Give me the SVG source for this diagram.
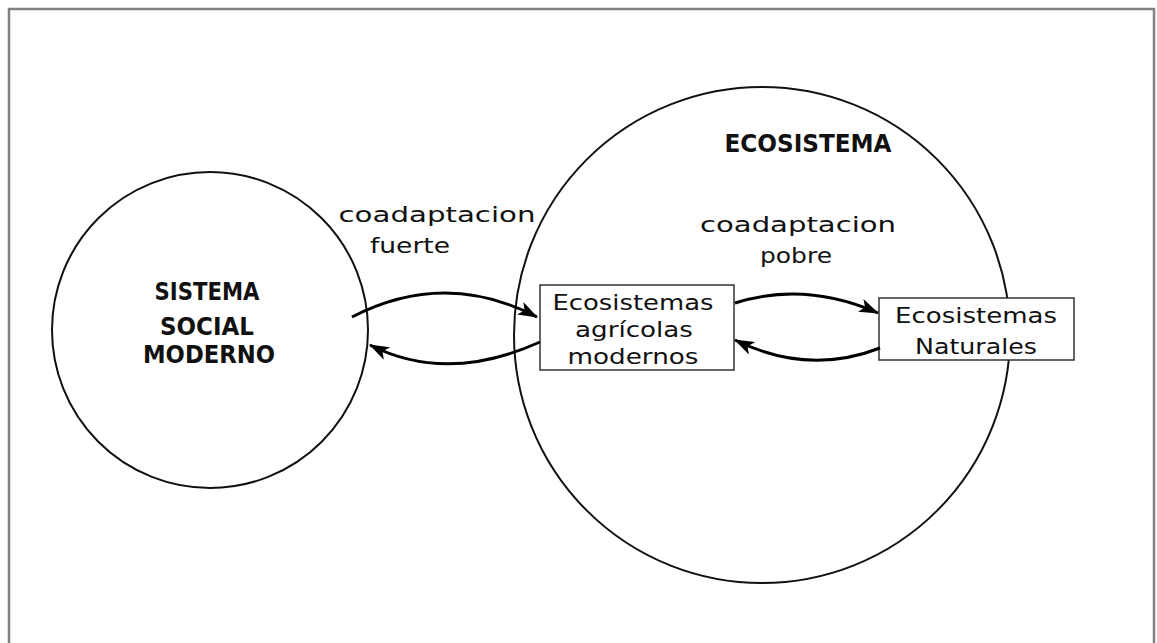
<svg xmlns="http://www.w3.org/2000/svg" width="1157" height="643" viewBox="0 0 1157 643">
<defs>
<style>
.frame{fill:none;stroke:#808080;stroke-width:2.5}
.circ{fill:none;stroke:#111;stroke-width:2}
.box{fill:#fff;stroke:#333;stroke-width:1.5}
.conn{fill:none;stroke:#000;stroke-width:3}
.t{font-family:"DejaVu Sans","Liberation Sans",sans-serif;font-size:22px;fill:#111;text-anchor:middle}
.b{font-family:"DejaVu Sans","Liberation Sans",sans-serif;font-size:24px;font-weight:bold;fill:#111;text-anchor:middle}
</style>
<marker id="ah" viewBox="0 0 20 14" refX="19" refY="7" markerWidth="20" markerHeight="14" markerUnits="userSpaceOnUse" orient="auto">
<path d="M0,0 L20,7 L0,14 L5,7 Z" fill="#000"/>
</marker>
</defs>
<rect x="0" y="0" width="1157" height="643" fill="#fff"/>
<rect class="frame" x="9" y="9" width="1145" height="650"/>
<g id="social">
<circle class="circ" cx="210" cy="330" r="158"/>
<text class="b" x="207" y="300" textLength="105" lengthAdjust="spacingAndGlyphs">SISTEMA</text>
<text class="b" x="207" y="335" textLength="94" lengthAdjust="spacingAndGlyphs">SOCIAL</text>
<text class="b" x="209" y="363" textLength="132" lengthAdjust="spacingAndGlyphs">MODERNO</text>
</g>
<g id="ecosistema">
<circle class="circ" cx="762" cy="335" r="248"/>
<text class="b" x="808" y="152" textLength="167" lengthAdjust="spacingAndGlyphs">ECOSISTEMA</text>
</g>
<g id="agricolas">
<rect class="box" x="540" y="285" width="194" height="85"/>
<text class="t" x="633" y="310" textLength="161" lengthAdjust="spacingAndGlyphs">Ecosistemas</text>
<text class="t" x="634" y="337" textLength="118" lengthAdjust="spacingAndGlyphs">agrícolas</text>
<text class="t" x="633" y="364" textLength="131" lengthAdjust="spacingAndGlyphs">modernos</text>
</g>
<g id="naturales">
<rect class="box" x="879" y="298" width="195" height="62"/>
<text class="t" x="976" y="323" textLength="162" lengthAdjust="spacingAndGlyphs">Ecosistemas</text>
<text class="t" x="976" y="354" textLength="122" lengthAdjust="spacingAndGlyphs">Naturales</text>
</g>
<g id="labels">
<text class="t" x="437" y="222" textLength="197" lengthAdjust="spacingAndGlyphs">coadaptacion</text>
<text class="t" x="410" y="253" textLength="80" lengthAdjust="spacingAndGlyphs">fuerte</text>
<text class="t" x="798" y="232" textLength="196" lengthAdjust="spacingAndGlyphs">coadaptacion</text>
<text class="t" x="796" y="263" textLength="72" lengthAdjust="spacingAndGlyphs">pobre</text>
</g>
<g id="connectors">
<path class="conn" d="M352,317 Q445,269 537,317" marker-end="url(#ah)"/>
<path class="conn" d="M540,342 Q447,384 370,345" marker-end="url(#ah)"/>
<path class="conn" d="M735,303 Q805,281 878,313" marker-end="url(#ah)"/>
<path class="conn" d="M880,348 Q808,376 735,340" marker-end="url(#ah)"/>
</g>
</svg>
